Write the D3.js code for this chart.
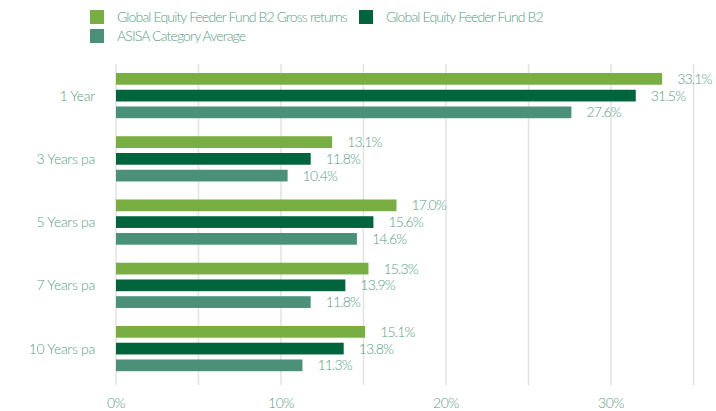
<!DOCTYPE html>
<html>
<head>
<meta charset="utf-8">
<script src="https://cdn.jsdelivr.net/npm/d3@7"></script>
<style>
  body { margin: 0; background: #fff; }
  svg text { font-family: "Lato", "Open Sans", sans-serif; font-weight: 300; fill: #56a083; }
</style>
</head>
<body>
<svg id="chart" width="716" height="411"></svg>
<script>
// periods down the y axis
var periods = ["1 Year", "3 Years pa", "5 Years pa", "7 Years pa", "10 Years pa"];
var seriesNames = ["Global Equity Feeder Fund B2 Gross returns", "Global Equity Feeder Fund B2", "ASISA Category Average"];
var grossReturns = [33.1, 13.1, 17.0, 15.3, 15.1];
var fundReturns = [31.5, 11.8, 15.6, 13.9, 13.8];
var categoryAverage = [27.6, 10.4, 14.6, 11.8, 11.3];
var xTicks = [0, 10, 20, 30];
var colors = ["#78ae42", "#00643d", "#4b917a"];

var svg = d3.select("#chart");

var x = d3.scaleLinear().domain([0, 35]).range([116, 693.5]);
var y0 = d3.scaleBand().domain(periods).range([73, 371.2]).paddingInner(0.285).paddingOuter(0);
var y1 = d3.scaleBand().domain(d3.range(3)).range([0, y0.bandwidth()]).paddingInner(0.3);

var rows = periods.map(function(p, i) {
    return {period: p, values: [grossReturns[i], fundReturns[i], categoryAverage[i]]};
});

// gridlines every 5%
svg.append("g")
    .selectAll("line")
    .data(d3.range(0, 36, 5))
    .enter()
    .append("line")
    .attr("x1", function(d) { return x(d); })
    .attr("x2", function(d) { return x(d); })
    .attr("y1", 64)
    .attr("y2", 385)
    .style("stroke", "#e2e2e2")
    .style("stroke-width", 1.5);

// x axis labels
svg.append("g")
    .selectAll("text")
    .data(xTicks)
    .enter()
    .append("text")
    .attr("x", function(d) { return x(d); })
    .attr("y", 408)
    .attr("text-anchor", "middle")
    .style("font-size", "14px")
    .style("letter-spacing", "-0.4px")
    .text(function(d) { return d + "%"; });

// y labels
svg.append("g")
    .selectAll("text")
    .data(periods)
    .enter()
    .append("text")
    .attr("x", 95)
    .attr("y", function(d) { return y0(d) + y0.bandwidth() / 2 + 5; })
    .attr("text-anchor", "end")
    .style("font-size", "14px")
    .style("letter-spacing", "-0.3px")
    .text(function(d) { return d; });

var groups = svg.append("g")
    .selectAll("g")
    .data(rows)
    .enter()
    .append("g")
    .attr("transform", function(d) { return "translate(0," + y0(d.period) + ")"; });

groups.selectAll("rect")
    .data(function(d) { return d.values; })
    .enter()
    .append("rect")
    .attr("x", x(0))
    .attr("y", function(d, i) { return y1(i); })
    .attr("width", function(d) { return x(d) - x(0); })
    .attr("height", y1.bandwidth())
    .style("fill", function(d, i) { return colors[i]; });

groups.selectAll("text")
    .data(function(d) { return d.values; })
    .enter()
    .append("text")
    .attr("x", function(d) { return x(d) + 15; })
    .attr("y", function(d, i) { return y1(i) + y1.bandwidth() / 2 + 5; })
    .style("font-size", "14px")
    .style("letter-spacing", "-0.8px")
    .text(function(d) { return d.toFixed(1) + "%"; });

// legend
var legendPos = [[90, 10], [359, 10], [90, 29]];
var legend = svg.append("g")
    .selectAll("g")
    .data(seriesNames)
    .enter()
    .append("g")
    .attr("transform", function(d, i) { return "translate(" + legendPos[i][0] + "," + legendPos[i][1] + ")"; });

legend.append("rect")
    .attr("width", 14)
    .attr("height", 14)
    .style("fill", function(d, i) { return colors[i]; });

legend.append("text")
    .attr("x", 27)
    .attr("y", 12)
    .style("font-size", "14px")
    .style("letter-spacing", "-0.85px")
    .text(function(d) { return d; });
</script>
</body>
</html>
